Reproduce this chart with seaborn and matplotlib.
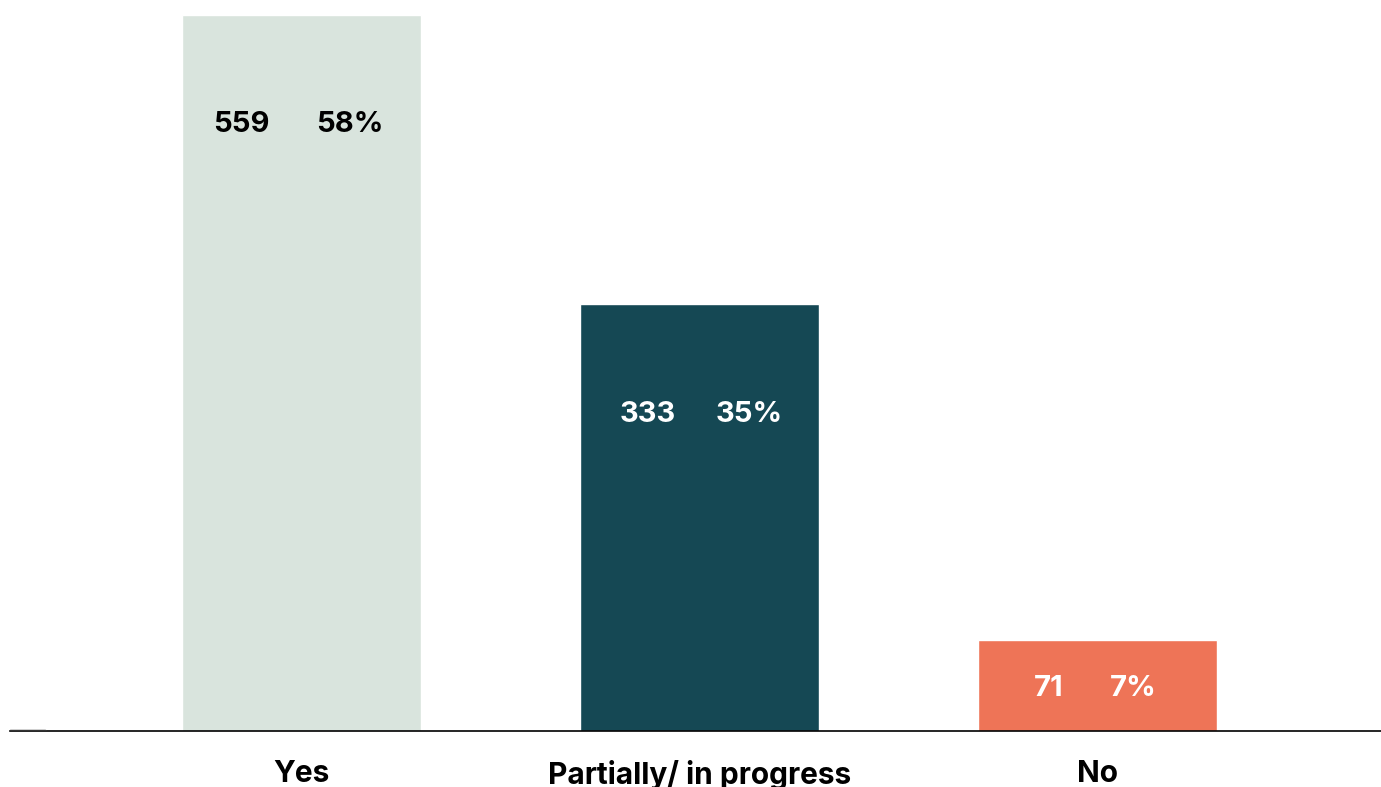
import matplotlib
matplotlib.use("Agg")
import matplotlib.pyplot as plt
import seaborn as sns
import pandas as pd

categories = ["Yes", "Partially/ in progress", "No"]
counts = [559, 333, 71]
percents = ["58%", "35%", "7%"]
bar_colors = ["#d9e4dd", "#154854", "#ee7457"]
text_colors = ["#000000", "#ffffff", "#ffffff"]

# horizontal placement of the two labels inside each bar (in bar-spacing units)
count_dx = [-0.150, -0.130, -0.122]
pct_dx = [0.121, 0.124, 0.089]

sns.set_theme(style="white")
plt.rcParams["font.family"] = ["Inter", "DejaVu Sans"]

df = pd.DataFrame({"category": categories, "count": counts})

fig = plt.figure(figsize=(13.81, 7.87), dpi=100)
ax = fig.add_axes([10 / 1381, 56.5 / 787, 1 - 10 / 1381, (730.5 - 15) / 787])

sns.barplot(data=df, x="category", y="count", hue="category",
            palette=bar_colors, width=0.6, saturation=1, legend=False, ax=ax)

ax.set_ylim(0, max(counts))
ax.set_xlim(-0.732, 2.712)

px = max(counts) / 715.5  # data units per pixel
for i, (c, p, tc) in enumerate(zip(counts, percents, text_colors)):
    # labels sit near the top of tall bars, centred in short ones
    y = c - 110 * px
    if y < c / 2:
        y = c / 2 - 3 * px
    ax.text(i + count_dx[i], y, str(c), ha="center", va="center",
            fontsize=21, fontweight="bold", color=tc)
    ax.text(i + pct_dx[i], y, p, ha="center", va="center",
            fontsize=21, fontweight="bold", color=tc)

# short darker stub at the left end of the baseline
ax.axhline(0, xmin=0, xmax=35 / 1371, color="#333333", lw=2.5, zorder=5)

for s in ["top", "right", "left"]:
    ax.spines[s].set_visible(False)
ax.spines["bottom"].set_color("#000000")
ax.spines["bottom"].set_linewidth(1.2)
ax.set_yticks([])
ax.set_xlabel("")
ax.set_ylabel("")
ax.tick_params(axis="x", length=0, pad=21, labelsize=21.5)
for lbl in ax.get_xticklabels():
    lbl.set_fontweight("bold")
    lbl.set_color("#000000")

fig.savefig("out.png", dpi=100)
